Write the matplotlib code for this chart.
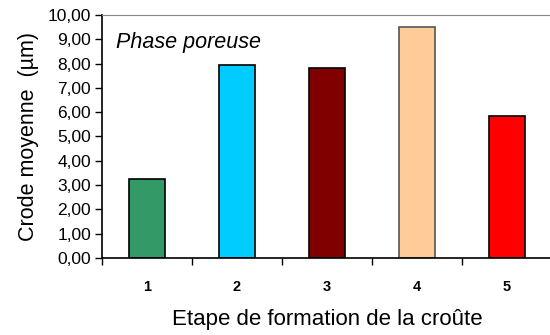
import matplotlib.pyplot as plt

plt.rcParams['font.family'] = ['Liberation Sans', 'DejaVu Sans']

# data
etapes = ['1', '2', '3', '4', '5']
crode = [3.25, 7.95, 7.82, 9.52, 5.84]
couleurs = ['#339966', '#00CCFF', '#800000', '#FFCC99', '#FF0000']
bords = ['black', 'black', 'black', '#555555', 'black']
yticks = [0, 1, 2, 3, 4, 5, 6, 7, 8, 9, 10]

fig = plt.figure(figsize=(5.5, 3.35), dpi=100)
ax = fig.add_axes([102 / 550, 77 / 335, 450 / 550, 243 / 335])

pos = range(1, len(etapes) + 1)
ax.bar(pos, crode, width=0.41, color=couleurs, edgecolor=bords, linewidth=1.2)

ax.set_xlim(0.5, 5.5)
ax.set_ylim(0, 10)
ax.set_yticks(yticks)
ax.set_yticklabels([f'{v:.2f}'.replace('.', ',') for v in yticks], fontsize=12.5)
ax.set_xticks([p + 0.5 for p in range(0, 5)])
ax.set_xticklabels([])
ax.set_xticks(list(pos), minor=True)
ax.set_xticklabels(etapes, minor=True, fontsize=10.5, fontweight='bold')
ax.tick_params(axis='x', which='minor', length=0, pad=16)
ax.tick_params(axis='x', which='major', length=5, width=1)
ax.tick_params(axis='y', length=5, width=1, pad=3)

ax.spines['right'].set_visible(False)
ax.spines['top'].set_color('#888888')
ax.spines['left'].set_linewidth(1.2)
ax.spines['bottom'].set_linewidth(1.2)

ax.set_ylabel('Crode moyenne  (µm)', fontsize=15.5, labelpad=6)
ax.set_xlabel('Etape de formation de la croûte', fontsize=16, labelpad=11)
ax.text(0.03, 0.885, 'Phase poreuse', transform=ax.transAxes, fontsize=15.5,
        style='italic', va='center')

fig.savefig('out.png', dpi=100)
